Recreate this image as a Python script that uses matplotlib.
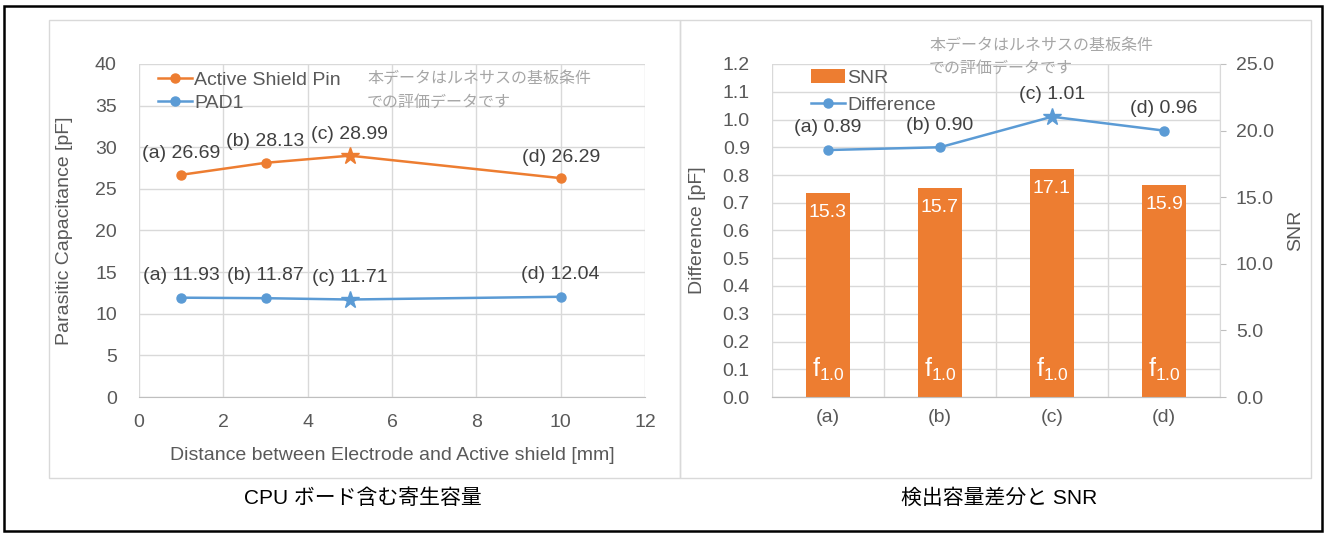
import matplotlib.pyplot as plt
from matplotlib.patches import Rectangle
from matplotlib.ticker import MultipleLocator, FixedLocator

plt.rcParams['font.family'] = ['Liberation Sans', 'Noto Sans CJK JP']
plt.rcParams['mathtext.fontset'] = 'custom'
plt.rcParams['mathtext.rm'] = 'Liberation Sans'

# data
point_names = ['(a)', '(b)', '(c)', '(d)']
distance_mm = [1, 3, 5, 10]
shield_pin = [26.69, 28.13, 28.99, 26.29]
pad1 = [11.93, 11.87, 11.71, 12.04]
difference = [0.89, 0.90, 1.01, 0.96]
snr = [15.3, 15.7, 17.1, 15.9]
note = '本データはルネサスの基板条件\nでの評価データです'

orange = '#ED7D31'
blue = '#5B9BD5'
grid_c = '#D9D9D9'
tick_c = '#595959'
label_c = '#404040'
fs = 14

W, H = 1328, 535
fig = plt.figure(figsize=(W / 100, H / 100), dpi=100)


def fx(px):
    return px / W


def fy(py):
    return (H - py) / H


# frames
fig.patches.append(Rectangle((fx(4), fy(531)), fx(1318), 525 / H, transform=fig.transFigure,
                             fill=False, ec='black', lw=1.8))
for x0 in (49, 680):
    fig.patches.append(Rectangle((fx(x0), fy(478)), fx(631), 458 / H, transform=fig.transFigure,
                                 fill=False, ec=grid_c, lw=1.0))

# ---- left chart ----
ax = fig.add_axes([fx(139), fy(397), fx(506), 333 / H])
ax.set_xlim(0, 12)
ax.set_ylim(0, 40)
ax.xaxis.set_major_locator(MultipleLocator(2))
ax.yaxis.set_major_locator(MultipleLocator(5))
ax.grid(True, color=grid_c, lw=1)
ax.set_axisbelow(True)
for s in ('top', 'right', 'left'):
    ax.spines[s].set_visible(False)
ax.spines['bottom'].set_color('#BFBFBF')
ax.tick_params(axis='both', length=0, labelsize=fs, labelcolor=tick_c)
ax.tick_params(axis='y', pad=16)
ax.tick_params(axis='x', pad=12)

for vals, col, lab, off in ((shield_pin, orange, 'Active Shield Pin', 15),
                            (pad1, blue, 'PAD1', 16)):
    ax.plot(distance_mm, vals, color=col, lw=1.8, marker='o', ms=6.5,
            markevery=[0, 1, 3], label=lab)
    ax.plot(distance_mm, vals, ls='none', color=col, marker='*', ms=13, markevery=[2])
    for x, v, n in zip(distance_mm, vals, point_names):
        ax.annotate(f'{n} {v:.2f}', (x, v), xytext=(0, off), textcoords='offset points',
                    ha='center', va='center', fontsize=fs, color=label_c)

ax.set_xlabel('Distance between Electrode and Active shield [mm]', fontsize=fs, color=tick_c)
ax.set_ylabel('Parasitic Capacitance [pF]', fontsize=fs, color=tick_c)
ax.xaxis.set_label_coords(0.5, (397 - 455) / 333)
ax.xaxis.label.set_va('center')
ax.yaxis.set_label_coords((65 - 139) / 506, 0.5)
ax.yaxis.label.set_va('center')

ax.legend(loc='upper left', bbox_to_anchor=(fx(158), fy(71)), bbox_transform=fig.transFigure,
          frameon=False, fontsize=fs, labelcolor=tick_c, borderpad=0, borderaxespad=0,
          handlelength=1.75, handletextpad=0.1, labelspacing=0.3)

fig.text(fx(367), fy(78), note.split('\n')[0], fontsize=11.5, color='#A6A6A6', va='center')
fig.text(fx(367), fy(102), note.split('\n')[1], fontsize=11.5, color='#A6A6A6', va='center')

# ---- right chart ----
ax1 = fig.add_axes([fx(772), fy(397), fx(448), 333 / H])
ax2 = ax1.twinx()
pos = list(range(len(point_names)))
ax1.set_xlim(-0.5, 3.5)
ax1.set_ylim(0, 1.2)
ax2.set_ylim(0, 25)
ax1.yaxis.set_major_locator(MultipleLocator(0.1))
ax2.yaxis.set_major_locator(MultipleLocator(5))
ax1.set_xticks(pos)
ax1.set_xticklabels(point_names)
ax1.xaxis.set_minor_locator(FixedLocator([-0.5, 0.5, 1.5, 2.5, 3.5]))
ax1.grid(True, axis='y', color=grid_c, lw=1)
ax1.grid(True, axis='x', which='minor', color=grid_c, lw=1)
ax1.set_axisbelow(True)
ax1.yaxis.set_major_formatter(lambda v, p: f'{v:.1f}')
ax2.yaxis.set_major_formatter(lambda v, p: f'{v:.1f}')
for a in (ax1, ax2):
    for s in ('top', 'left', 'right'):
        a.spines[s].set_visible(False)
    a.spines['bottom'].set_color('#BFBFBF')
ax2.spines['right'].set_visible(True)
ax2.spines['right'].set_color(grid_c)
ax1.tick_params(axis='both', which='both', length=0, labelsize=fs, labelcolor=tick_c)
ax1.tick_params(axis='y', pad=16)
ax1.tick_params(axis='x', pad=9)
ax2.tick_params(axis='y', length=4.5, color='#BFBFBF', pad=7, labelsize=fs, labelcolor=tick_c)

bars = ax2.bar(pos, snr, width=0.4, color=orange, label='SNR', zorder=2)
for p, v in zip(pos, snr):
    ax2.annotate(f'{v:.1f}', (p, v), xytext=(0, -14), textcoords='offset points',
                 ha='center', va='center', fontsize=fs, color='white')
    ax2.annotate(r'$\mathregular{f_{1.0}}$', (p, 0), xytext=(0, 20), textcoords='offset points',
                 ha='center', va='center', fontsize=18, color='white')

line, = ax1.plot(pos, difference, color=blue, lw=1.8, marker='o', ms=6.5,
                 markevery=[0, 1, 3], label='Difference')
ax1.plot(pos, difference, ls='none', color=blue, marker='*', ms=13, markevery=[2])
for p, v, n in zip(pos, difference, point_names):
    ax1.annotate(f'{n} {v:.2f}', (p, v), xytext=(0, 16), textcoords='offset points',
                 ha='center', va='center', fontsize=fs, color=label_c)

ax1.set_ylabel('Difference [pF]', fontsize=fs, color=tick_c)
ax1.yaxis.set_label_coords((697 - 772) / 448, 0.5)
ax1.yaxis.label.set_va('center')
ax2.set_ylabel('SNR', fontsize=fs, color=tick_c)
ax2.yaxis.set_label_coords((1296 - 772) / 448, 0.5)
ax2.yaxis.label.set_va('center')

ax2.legend([bars, line], ['SNR', 'Difference'], loc='upper left',
           bbox_to_anchor=(fx(811), fy(69)), bbox_transform=fig.transFigure,
           frameon=False, fontsize=fs, labelcolor=tick_c, borderpad=0, borderaxespad=0,
           handlelength=1.75, handletextpad=0.1, labelspacing=0.5)

fig.text(fx(929), fy(45), note.split('\n')[0], fontsize=11.5, color='#A6A6A6', va='center')
fig.text(fx(929), fy(68), note.split('\n')[1], fontsize=11.5, color='#A6A6A6', va='center')

# captions
fig.text(fx(363), fy(498), 'CPU ボード含む寄生容量', fontsize=15, ha='center', va='center')
fig.text(fx(999), fy(498), '検出容量差分と SNR', fontsize=15, ha='center', va='center')

fig.savefig('out.png', dpi=100)
